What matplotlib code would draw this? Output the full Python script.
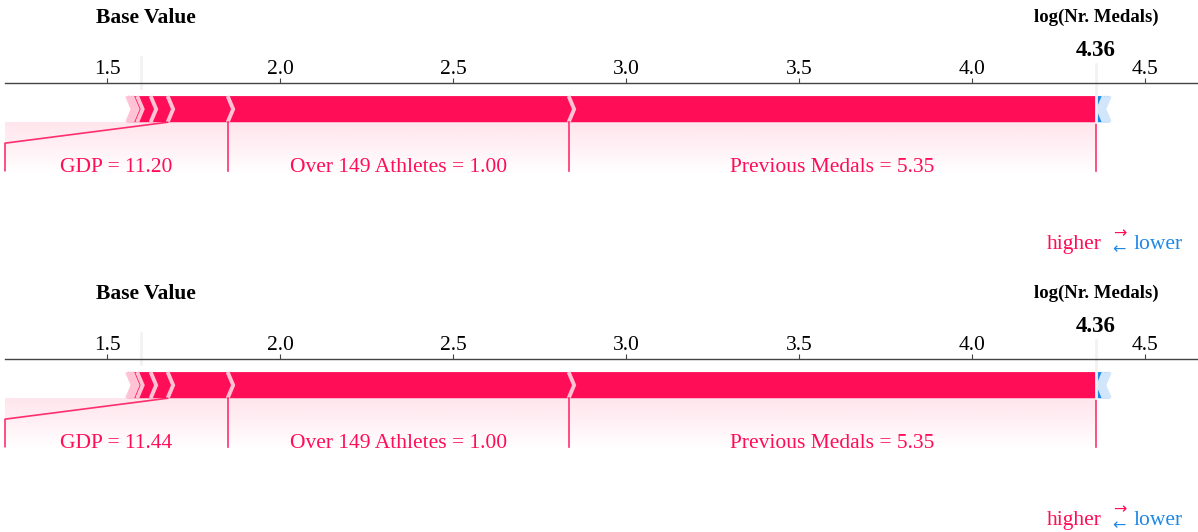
import matplotlib
matplotlib.use('Agg')
import matplotlib.pyplot as plt
import numpy as np
from matplotlib import lines
from matplotlib.patches import Polygon
from matplotlib.ticker import MultipleLocator

plt.rcParams['font.family'] = ['Liberation Serif', 'DejaVu Sans']

# data
base_value = 1.5975
output_name = 'log(Nr. Medals)'
pos_names = ['Previous Medals', 'Over 149 Athletes', 'GDP', '', '', '', '', '']
pos_shap = [1.5242, 0.9858, 0.1735, 0.0491, 0.0390, 0.0145, 0.0072, 0.0072]
neg_shap = [0.0230, 0.0087, 0.0087]
feature_values = [['5.35', '1.00', '11.20'],   # top plot
                  ['5.35', '1.00', '11.44']]   # bottom plot

RED, RED_LIGHT = '#FF0D57', '#FFC3D5'
BLUE, BLUE_LIGHT = '#1E88E5', '#D1E6FA'

x_range = (1.204, 4.653)
width_bar = 0.1
width_sep = 0.016
fs = 15.5


def draw_bars(ax, out_value, shap_vals, positive):
    rects, seps = [], []
    pre = out_value
    for i, s in enumerate(shap_vals):
        if positive:
            left, right = pre - s, pre
            pre = left
            ind = width_sep
            pos = left
            cols = (RED, RED_LIGHT)
        else:
            left, right = pre, pre + s
            pre = right
            ind = -width_sep
            pos = right
            cols = (BLUE, BLUE_LIGHT)
        if i == 0:
            if positive:
                pts = [[left, 0], [right, 0], [right, width_bar], [left, width_bar],
                       [left + ind, width_bar / 2]]
            else:
                pts = [[right, 0], [left, 0], [left, width_bar], [right, width_bar],
                       [right + ind, width_bar / 2]]
        else:
            pts = [[left, 0], [right, 0], [right + ind * 0.9, width_bar / 2],
                   [right, width_bar], [left, width_bar], [left + ind * 0.9, width_bar / 2]]
        rects.append(Polygon(pts, closed=True, fill=True, facecolor=cols[0], linewidth=0))
        seps.append(Polygon([[pos, 0], [pos + ind, width_bar / 2], [pos, width_bar]],
                            closed=False, fill=False, edgecolor=cols[1], lw=2.8))
    for p in rects + seps:
        ax.add_patch(p)


def force_plot(ax, values):
    out_value = base_value + sum(pos_shap) - sum(neg_shap)
    ax.set_xlim(*x_range)
    ax.set_ylim(-0.5, 0.15)

    draw_bars(ax, out_value, neg_shap, False)
    draw_bars(ax, out_value, pos_shap, True)

    # labels for the positive features
    ln = lines.Line2D([out_value, out_value], [0, -0.185], lw=1.2, alpha=0.85, color=RED)
    ln.set_clip_on(False)
    ax.add_line(ln)
    start = out_value
    val = out_value
    box_end = out_value
    n_lab = len(values)
    for i in range(n_lab):
        val -= pos_shap[i]
        box_end = val if i < n_lab - 1 else x_range[0]
        if box_end < val:
            xs, ys = [val, box_end, box_end], [0, -0.08, -0.185]
        else:
            xs, ys = [val, val], [0, -0.185]
        ln = lines.Line2D(xs, ys, lw=1.2, alpha=0.85, color=RED)
        ln.set_clip_on(False)
        ax.add_line(ln)
        ax.text((start + box_end) / 2, -0.19, pos_names[i] + ' = ' + values[i],
                fontsize=fs, color=RED, ha='center', va='baseline')
        start = box_end

    # shading under the labels
    grad = np.zeros((60, 1, 4))
    grad[:, 0, :3] = matplotlib.colors.to_rgb(RED)
    grad[:, 0, 3] = np.linspace(0.11, 0.0, 60)
    ax.imshow(grad, extent=[box_end, out_value, -0.2, 0], origin='upper',
              aspect='auto', interpolation='bilinear', zorder=0.5)

    # higher / lower legend
    ax.text(out_value + 0.018, -0.486, 'higher', fontsize=fs, color=RED, ha='right', va='baseline')
    ax.text(out_value + 0.108, -0.486, 'lower', fontsize=fs, color=BLUE, ha='left', va='baseline')
    ax.text(out_value + 0.067, -0.450, r'$\rightarrow$', fontsize=11.5, color=RED, ha='center', va='bottom')
    ax.text(out_value + 0.063, -0.452, r'$\leftarrow$', fontsize=11.5, color=BLUE, ha='center', va='top')

    # base value
    ln = lines.Line2D([base_value, base_value], [0.13, 0.25], lw=2, color='#F2F2F2')
    ln.set_clip_on(False)
    ax.add_line(ln)
    t = ax.text(base_value + 0.015, 0.40, 'Base Value', fontsize=15.5, fontweight='bold',
                ha='center', va='center')
    t.set_bbox(dict(facecolor='white', edgecolor='white'))

    # output value
    ln = lines.Line2D([out_value, out_value], [0, 0.24], lw=2, color='#F2F2F2')
    ln.set_clip_on(False)
    ax.add_line(ln)
    t = ax.text(out_value, 0.276, '{0:.2f}'.format(out_value), fontsize=16.5,
                fontweight='bold', ha='center', va='center')
    t.set_bbox(dict(facecolor='white', edgecolor='white', pad=1))
    t = ax.text(out_value, 0.40, output_name, fontsize=13.5, fontweight='bold',
                ha='center', va='center')
    t.set_bbox(dict(facecolor='white', edgecolor='white'))

    ax.set_xlim(*x_range)
    ax.set_ylim(-0.5, 0.15)
    ax.xaxis.set_major_locator(MultipleLocator(0.5))
    ax.tick_params(top=True, bottom=False, left=False, right=False, labelleft=False,
                   labeltop=True, labelbottom=False, labelsize=fs, color='#444444', pad=-0.8)
    for key, spine in ax.spines.items():
        if key != 'top':
            spine.set_visible(False)
    ax.spines['top'].set_color('#444444')
    ax.spines['top'].set_linewidth(1)


fig = plt.figure(figsize=(11.98, 5.32), dpi=100)
W, H = 1198.0, 532.0
for k, top_px in enumerate([83, 359]):
    ax = fig.add_axes([5 / W, 1 - (top_px + 170) / H, 1193 / W, 170 / H])
    force_plot(ax, feature_values[k])

fig.savefig('out.png', dpi=100)
